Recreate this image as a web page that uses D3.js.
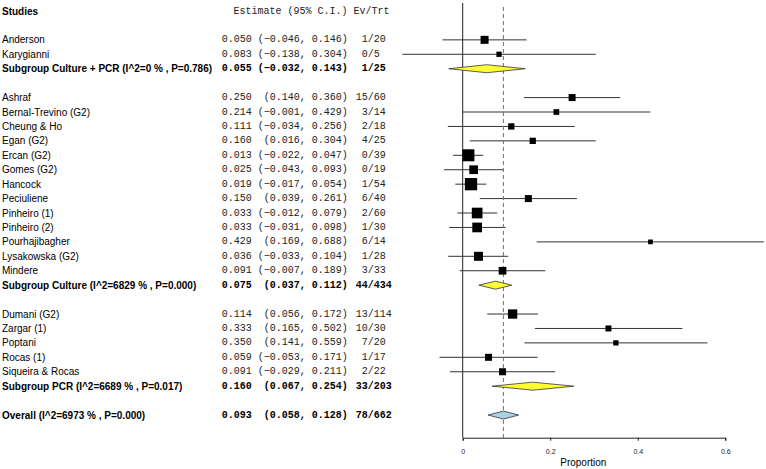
<!DOCTYPE html>
<html><head><meta charset="utf-8">
<script src="https://cdn.jsdelivr.net/npm/d3@7"></script>
<style>
html,body{margin:0;padding:0;background:#fff;}
svg{display:block;}
.name{font-family:"Liberation Sans",Arial,sans-serif;font-size:10px;fill:#000;}
.mono{font-family:"Liberation Mono","Courier New",monospace;font-size:10px;fill:#222;white-space:pre;}
.bold{font-weight:bold;fill:#000;}
</style>
</head><body>
<svg id="chart" width="766" height="469"></svg>
<script>
// ---- data ----
const labels = ["Anderson","Karygianni","Subgroup Culture + PCR (I^2=0 % , P=0.786)","",
  "Ashraf","Bernal-Trevino (G2)","Cheung & Ho","Egan (G2)","Ercan (G2)","Gomes (G2)","Hancock",
  "Peciuliene","Pinheiro (1)","Pinheiro (2)","Pourhajibagher","Lysakowska (G2)","Mindere",
  "Subgroup Culture (I^2=6829 % , P=0.000)","",
  "Dumani (G2)","Zargar (1)","Poptani","Rocas (1)","Siqueira & Rocas",
  "Subgroup PCR (I^2=6689 % , P=0.017)","",
  "Overall (I^2=6973 % , P=0.000)"];
const rowTypes = ["study","study","subgroup","blank",
  "study","study","study","study","study","study","study","study","study","study","study","study","study",
  "subgroup","blank",
  "study","study","study","study","study",
  "subgroup","blank",
  "overall"];
const estimates = [0.050,0.083,0.055,null,
  0.250,0.214,0.111,0.160,0.013,0.025,0.019,0.150,0.033,0.033,0.429,0.036,0.091,
  0.075,null,
  0.114,0.333,0.350,0.059,0.091,
  0.160,null,
  0.093];
const lowers = [-0.046,-0.138,-0.032,null,
  0.140,-0.001,-0.034,0.016,-0.022,-0.043,-0.017,0.039,-0.012,-0.031,0.169,-0.033,-0.007,
  0.037,null,
  0.056,0.165,0.141,-0.053,-0.029,
  0.067,null,
  0.058];
const uppers = [0.146,0.304,0.143,null,
  0.360,0.429,0.256,0.304,0.047,0.093,0.054,0.261,0.079,0.098,0.688,0.104,0.189,
  0.112,null,
  0.172,0.502,0.559,0.171,0.211,
  0.254,null,
  0.128];
const events = [1,0,1,null,
  15,3,2,4,0,0,1,6,2,1,6,1,3,
  44,null,
  13,10,7,1,2,
  33,null,
  78];
const totals = [20,5,25,null,
  60,14,18,25,39,19,54,40,60,30,14,28,33,
  434,null,
  114,30,20,17,22,
  203,null,
  662];
// relative study weights (box size)
const weights = [8,5.3,null,null,
  7,5.7,6.3,6.3,12,8.7,12.3,7,10.7,9.7,4.7,9,7.7,
  null,null,
  9.3,6,5.3,7,7,
  null,null,
  null];
const xTicks = [0,0.2,0.4,0.6];
const xTickLabels = ["0","0.2","0.4","0.6"];
const overallEstimate = 0.093;

// ---- chart ----
const svg = d3.select("#chart");
const nRows = labels.length + 2; // header + blank
const y = d3.scaleLinear().domain([0, nRows - 1]).range([11, 11 + 14.43 * (nRows - 1)]);
const x = d3.scaleLinear().domain([0, 0.6]).range([462.7, 725.3]);
const size = d3.scaleLinear().domain([0, 12.3]).range([0, 12.3]);
const axisY = 437.7;

const rows = labels.map((l, i) => ({
  label: l, type: rowTypes[i], est: estimates[i], lo: lowers[i], hi: uppers[i],
  ev: events[i], tot: totals[i], w: weights[i], k: i + 2
}));

// header
svg.append("text").attr("class","name bold").attr("x",2).attr("y",y(0))
  .attr("dominant-baseline","central").text("Studies");
svg.append("text").attr("class","mono").attr("x",233.5).attr("y",y(0))
  .attr("dominant-baseline","central").text("Estimate (95% C.I.) Ev/Trt");

const dataRows = rows.filter(r => r.type !== "blank");
const fmt = d3.format(".3f");

// labels
svg.append("g").selectAll("text").data(dataRows).join("text")
  .attr("class", d => d.type === "study" ? "name" : "name bold")
  .attr("x", 2).attr("y", d => y(d.k)).attr("dominant-baseline","central")
  .text(d => d.label);

// estimate / CI text
svg.append("g").selectAll("text").data(dataRows).join("text")
  .attr("class", d => d.type === "study" ? "mono" : "mono bold")
  .attr("x", 221.7).attr("y", d => y(d.k)).attr("dominant-baseline","central")
  .text(d => fmt(d.est) + " " + ("(" + fmt(d.lo)).padStart(7, " ") + ", " + fmt(d.hi) + ")");

// Ev/Trt
svg.append("g").selectAll("text").data(dataRows).join("text")
  .attr("class", d => d.type === "study" ? "mono" : "mono bold")
  .attr("x", 355.7).attr("y", d => y(d.k)).attr("dominant-baseline","central")
  .text(d => String(d.ev).padStart(2, " ") + "/" + d.tot);

// zero line
svg.append("line").attr("x1", x(0)).attr("x2", x(0)).attr("y1", 3).attr("y2", axisY)
  .attr("stroke","#222").attr("stroke-width",1);

// CI lines for studies
const studies = dataRows.filter(d => d.type === "study");
svg.append("g").selectAll("line").data(studies).join("line")
  .attr("x1", d => x(d.lo)).attr("x2", d => x(d.hi))
  .attr("y1", d => y(d.k)).attr("y2", d => y(d.k))
  .attr("stroke","#333").attr("stroke-width",1);

// reference dashed line
svg.append("line").attr("x1", x(overallEstimate)).attr("x2", x(overallEstimate))
  .attr("y1", 7).attr("y2", axisY)
  .attr("stroke","#e0403a").attr("stroke-width",1).attr("stroke-dasharray","4,3");

// boxes
svg.append("g").selectAll("rect").data(studies).join("rect")
  .attr("x", d => x(d.est) - size(d.w) / 2).attr("y", d => y(d.k) - size(d.w) / 2)
  .attr("width", d => size(d.w)).attr("height", d => size(d.w))
  .attr("fill","#000");

// diamonds
const summaries = dataRows.filter(d => d.type !== "study");
svg.append("g").selectAll("path").data(summaries).join("path")
  .attr("d", d => {
    const yy = y(d.k), h = 4;
    return `M${x(d.lo)},${yy}L${x(d.est)},${yy - h}L${x(d.hi)},${yy}L${x(d.est)},${yy + h}Z`;
  })
  .attr("fill", d => d.type === "overall" ? "#a7d3e3" : "#ffff33")
  .attr("stroke","#333").attr("stroke-width",0.8);

// axis
const axis = d3.axisBottom(x).tickValues(xTicks).tickSize(3)
  .tickFormat((d, i) => xTickLabels[i]);
const ag = svg.append("g").attr("transform", `translate(0,${axisY})`).call(axis);
ag.select(".domain").attr("stroke","#222");
ag.selectAll(".tick line").attr("stroke","#222");
ag.selectAll(".tick text").attr("font-family","Liberation Sans, Arial, sans-serif")
  .attr("font-size", 7).attr("fill","#222").attr("y", 11);

svg.append("text").attr("class","name").attr("x", 583.3).attr("y", 462)
  .attr("text-anchor","middle").attr("dominant-baseline","central").text("Proportion");
</script>
</body></html>
